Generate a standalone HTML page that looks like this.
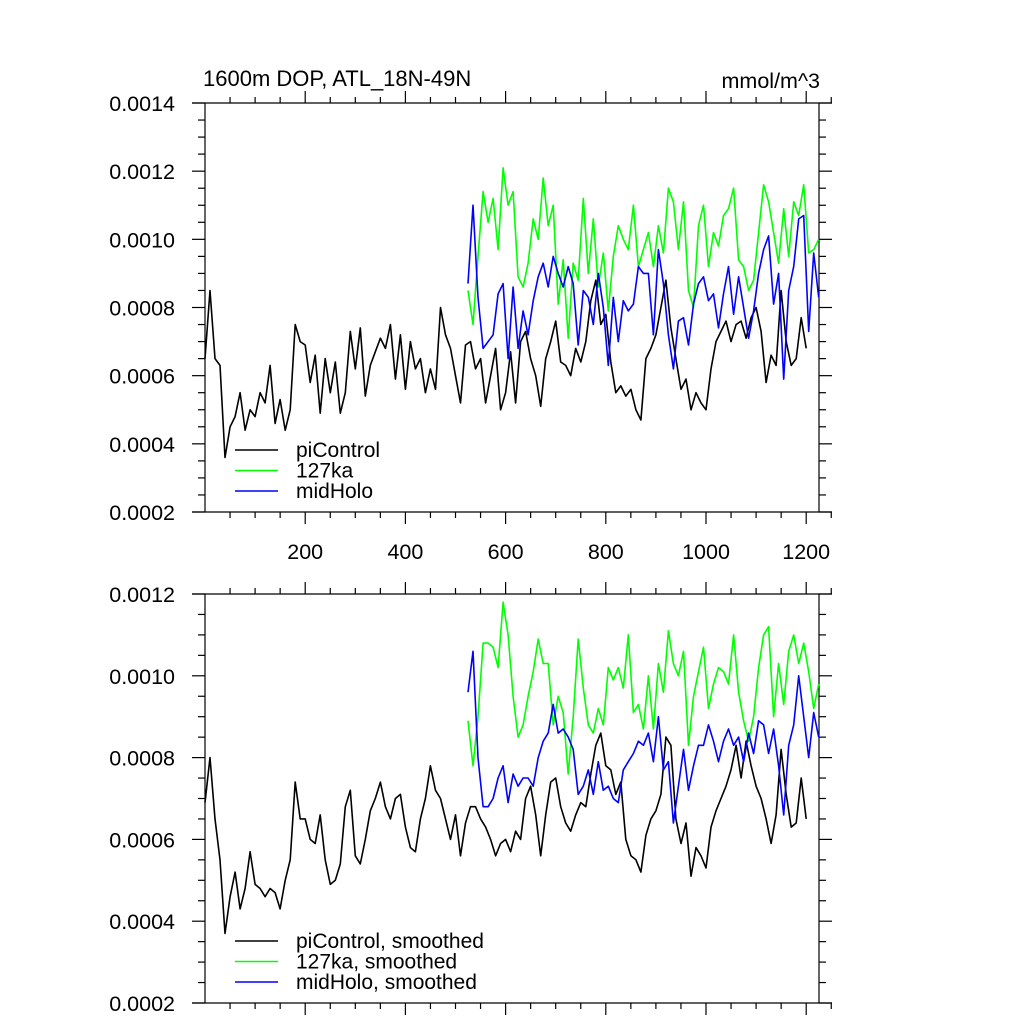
<!DOCTYPE html>
<html><head><meta charset="utf-8"><style>
html,body{margin:0;padding:0;background:#fff;}
svg{display:block;font-family:"Liberation Sans",sans-serif;}
</style></head><body>
<svg id="c" width="1024" height="1024" viewBox="0 0 1024 1024" xmlns="http://www.w3.org/2000/svg">
<text x="203" y="86" font-size="22">1600m DOP, ATL_18N-49N</text>
<text x="820" y="88" font-size="21.5" text-anchor="end">mmol/m^3</text>
</svg>
<script>
const xTickVals=[200,400,600,800,1000,1200];
const topYTicks=[0.0002,0.0004,0.0006,0.0008,0.0010,0.0012,0.0014];
const botYTicks=[0.0002,0.0004,0.0006,0.0008,0.0010,0.0012];
const piStart=0, piStep=10;
const piRaw=[6.5,8.5,6.5,6.3,3.6,4.5,4.8,5.5,4.4,5.0,4.8,5.5,5.2,6.3,4.6,5.3,4.4,5.0,7.5,7.0,6.9,5.8,6.6,4.9,6.5,5.5,6.4,4.9,5.5,7.3,6.2,7.4,5.4,6.3,6.7,7.1,6.8,7.5,5.9,7.2,5.6,7.0,6.2,6.5,5.5,6.2,5.6,8.0,7.2,6.8,6.0,5.2,6.9,7.0,6.2,6.5,5.2,6.0,6.8,5.0,5.5,6.7,5.2,7.0,7.3,6.5,6.0,5.1,6.5,7.0,7.6,6.4,6.3,6.0,6.8,6.4,7.0,8.2,8.8,7.5,7.8,6.4,5.5,5.7,5.4,5.6,5.0,4.7,6.5,6.8,7.2,8.0,8.8,7.4,6.5,5.6,5.9,5.0,5.5,5.2,5.0,6.2,7.0,7.3,7.6,7.0,7.5,7.6,7.1,7.7,8.0,7.3,5.8,6.6,6.3,8.5,7.0,6.3,6.5,7.7,6.8];
const expStart=525, expStep=10;
const ka127Raw=[8.5,7.5,9.5,11.4,10.5,11.2,9.7,12.1,11.0,11.4,8.9,8.6,9.3,10.6,10.0,11.8,10.4,11.0,8.1,9.4,7.1,9.3,8.8,11.2,9.0,10.6,8.6,9.6,7.9,9.5,10.4,10.0,9.7,11.0,9.2,9.7,10.2,9.2,10.4,9.6,11.5,11.1,9.7,11.1,8.5,8.0,10.4,11.0,9.2,10.2,9.8,10.7,10.9,11.5,9.4,9.2,8.5,8.8,10.2,11.6,11.1,10.2,9.3,10.9,9.5,11.1,10.7,11.6,9.6,9.7,10.0];
const holoRaw=[8.7,11.0,8.3,6.8,7.0,7.2,8.4,8.7,6.5,8.6,6.8,7.9,7.2,8.2,8.9,9.3,8.6,9.5,9.0,8.6,9.2,8.7,6.9,8.5,8.3,7.5,9.0,8.0,6.3,8.3,7.0,8.2,7.9,8.1,9.2,9.0,9.0,7.2,9.7,8.7,7.2,6.2,7.6,7.7,6.9,8.1,8.7,8.9,8.2,8.4,7.4,8.4,9.2,7.8,8.9,8.0,7.1,7.9,9.0,9.7,10.1,8.1,9.0,5.9,8.5,9.2,10.6,10.7,7.3,9.6,8.3];
const piSmooth=[6.9,8.0,6.5,5.5,3.7,4.6,5.2,4.3,4.8,5.7,4.9,4.8,4.6,4.8,4.7,4.3,5.0,5.5,7.4,6.5,6.5,6.0,5.9,6.6,5.5,4.9,5.0,5.4,6.8,7.2,5.6,5.4,6.0,6.7,7.0,7.4,6.8,6.5,7.0,7.1,6.3,5.8,5.7,6.5,7.0,7.8,7.2,7.0,6.5,6.0,6.6,5.6,6.4,6.8,6.8,6.5,6.3,6.0,5.6,5.9,6.0,5.7,6.2,6.0,7.0,7.3,6.6,5.6,6.6,7.4,7.5,6.8,6.4,6.2,6.6,6.9,6.8,7.6,8.3,8.6,7.8,7.7,7.1,7.4,6.0,5.6,5.5,5.2,6.1,6.5,6.7,7.1,8.5,8.3,6.5,5.9,6.4,5.1,5.8,5.6,5.3,6.3,6.7,7.0,7.3,7.7,8.3,7.5,8.4,7.8,7.3,7.0,6.5,5.9,6.6,8.2,7.1,6.3,6.4,7.5,6.5];
const ka127Smooth=[8.9,7.8,9.0,10.8,10.8,10.7,10.2,11.8,11.0,9.5,8.5,8.8,9.5,10.1,10.9,10.3,10.3,8.8,9.5,9.1,7.6,9.0,10.9,9.7,8.8,8.6,9.2,8.8,10.2,9.9,10.2,9.7,11.0,9.1,9.3,8.7,10.0,8.7,10.3,9.6,11.1,10.3,10.0,10.6,8.3,9.5,10.1,10.7,9.2,9.8,10.2,10.1,9.8,11.0,9.6,8.9,8.4,9.0,10.2,11.0,11.2,9.0,10.3,9.3,10.6,11.0,10.3,10.8,10.1,9.2,9.8];
const holoSmooth=[9.6,10.6,8.0,6.8,6.8,7.0,7.5,7.8,6.9,7.6,7.3,7.5,7.5,7.3,8.0,8.4,8.6,9.3,8.6,8.7,8.5,8.2,7.1,7.3,7.7,7.1,7.9,7.2,7.3,7.0,6.9,7.7,7.9,8.1,8.4,8.3,8.6,7.9,9.0,7.7,7.9,6.4,7.3,8.2,7.2,7.8,8.3,8.3,8.8,8.4,7.9,8.4,8.7,8.3,8.5,7.9,8.6,8.1,8.9,8.8,8.1,8.7,7.8,6.6,8.3,8.8,10.0,9.0,8.0,9.1,8.5];
const SCALE=1e-4;
const NS='http://www.w3.org/2000/svg';
const svg=document.getElementById('c');
function mk(tag,attrs,parent){const e=document.createElementNS(NS,tag);for(const k in attrs)e.setAttribute(k,attrs[k]);(parent||svg).appendChild(e);return e;}
function xs(t){return 205+0.501*t;}
const panels=[
 {top:103,bot:512,ymin:0.0002,ymax:0.0014,ticks:topYTicks,xlabels:true,name:'top-panel',
  series:[[piRaw,piStart,'#000000','picontrol-line'],[ka127Raw,expStart,'#00ff00','127ka-line'],[holoRaw,expStart,'#0000ff','midholo-line']],
  legend:['piControl','127ka','midHolo'],ly:450},
 {top:594,bot:1003,ymin:0.0002,ymax:0.0012,ticks:botYTicks,xlabels:false,name:'bottom-panel',
  series:[[piSmooth,piStart,'#000000','picontrol-smoothed-line'],[ka127Smooth,expStart,'#00ff00','127ka-smoothed-line'],[holoSmooth,expStart,'#0000ff','midholo-smoothed-line']],
  legend:['piControl, smoothed','127ka, smoothed','midHolo, smoothed'],ly:941}
];
const legColors=['#000000','#00ff00','#0000ff'];
panels.forEach(p=>{
 const g=mk('g',{});
 
 
 const ys=v=>p.bot-(v-p.ymin)/(p.ymax-p.ymin)*(p.bot-p.top);
 const ax=mk('g',{stroke:'#000','stroke-width':'1.2',fill:'none'},g);
 
 
 mk('line',{x1:192,x2:832,y1:p.top,y2:p.top},ax);
 mk('line',{x1:192,x2:832,y1:p.bot,y2:p.bot},ax);
 mk('line',{x1:205,x2:205,y1:p.top,y2:p.bot},ax);
 mk('line',{x1:819,x2:819,y1:p.top,y2:p.bot},ax);
 for(let t=50;t<=1250;t+=50){
  const major=t%200===0; const L=major?12:6; const x=xs(t);
  if(x>832)break;
  mk('line',{x1:x,x2:x,y1:p.top,y2:p.top-L},ax);
  mk('line',{x1:x,x2:x,y1:p.bot,y2:p.bot+L},ax);
 }
 const stepMin=0.00005;
 for(let v=p.ymin;v<=p.ymax+1e-9;v+=stepMin){
  const y=ys(v); const k=Math.round((v-p.ymin)/stepMin); const major=k%4===0; const L=major?13:7;
  mk('line',{x1:205,x2:205-L,y1:y,y2:y},ax);
  mk('line',{x1:819,x2:819+L,y1:y,y2:y},ax);
 }
 p.ticks.forEach(v=>{
  const tx=mk('text',{x:175,y:ys(v)+8,'font-size':21.5,'text-anchor':'end'},g);
  tx.textContent=v.toFixed(4);
  
  
 });
 if(p.xlabels){xTickVals.forEach(t=>{
  const tx=mk('text',{x:xs(t),y:p.bot+47,'font-size':21.5,'text-anchor':'middle'},g);
  tx.textContent=String(t);
  
  
 });}
 p.series.forEach(s=>{
  const [arr,start,col,nm]=s;
  const pts=arr.map((v,i)=>xs(start+i*(start===piStart?piStep:expStep)).toFixed(1)+','+ys(v*SCALE).toFixed(1)).join(' ');
  const pl=mk('polyline',{points:pts,fill:'none',stroke:col,'stroke-width':'1.6','stroke-linejoin':'round'},g);
  
  
 });
 p.legend.forEach((lab,i)=>{
  const y=p.ly+i*20.5;
  const le=mk('g',{},g);
  
  
  mk('line',{x1:235,x2:278,y1:y,y2:y,stroke:legColors[i],'stroke-width':'1.6'},le);
  const tx=mk('text',{x:296,y:y+7,'font-size':21},le);
  tx.textContent=lab;
 });
});
</script>
</body></html>
